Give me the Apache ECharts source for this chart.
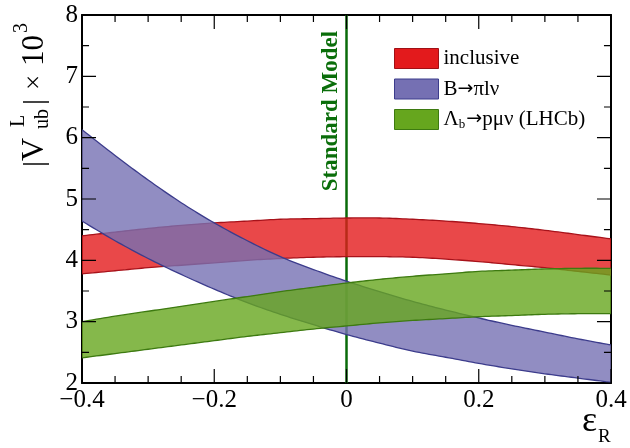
<!DOCTYPE html>
<html><head><meta charset="utf-8">
<script src="https://cdn.jsdelivr.net/npm/echarts@6/dist/echarts.min.js"></script>
<style>html,body{margin:0;padding:0;background:#fff}#c{width:630px;height:448px}</style>
</head><body><div id="c"></div>
<script>
// ---- data ----
const epsR = [-0.4,-0.35,-0.3,-0.25,-0.2,-0.15,-0.1,-0.05,0,0.05,0.1,0.15,0.2,0.25,0.3,0.35,0.4];
const inclusiveHigh = [4.40,4.46,4.52,4.57,4.61,4.64,4.67,4.68,4.69,4.69,4.67,4.64,4.60,4.55,4.49,4.42,4.35];
const inclusiveLow  = [3.78,3.83,3.88,3.92,3.96,4.00,4.03,4.05,4.06,4.06,4.05,4.02,3.98,3.93,3.88,3.82,3.76];
const bpiHigh = [6.13,5.71,5.31,4.94,4.61,4.32,4.06,3.85,3.66,3.49,3.33,3.19,3.06,2.94,2.83,2.72,2.62];
const bpiLow  = [4.64,4.32,4.03,3.77,3.53,3.31,3.12,2.95,2.79,2.65,2.52,2.42,2.32,2.23,2.15,2.08,2.01];
const lambdaHigh = [3.00,3.09,3.17,3.25,3.33,3.41,3.49,3.56,3.63,3.69,3.74,3.78,3.82,3.84,3.86,3.87,3.87];
const lambdaLow  = [2.41,2.48,2.55,2.62,2.69,2.76,2.82,2.88,2.93,2.98,3.02,3.05,3.08,3.10,3.12,3.13,3.13];
const smValue = 0;
const xTicks = {min:-0.4, max:0.4, interval:0.2};
const yTicks = {min:2, max:8, interval:1};
const xMinorStep = 0.05, yMinorStep = 0.5;
const names = ['inclusive','B→πlν','Λb→pμν (LHCb)'];

const FONT = 'Liberation Serif';

// smooth Catmull-Rom curve through screen points (drawing only)
function smoothPts(pts) {
  const out = [pts[0]];
  for (let i = 0; i < pts.length - 1; i++) {
    const p0 = pts[Math.max(i-1,0)], p1 = pts[i], p2 = pts[i+1], p3 = pts[Math.min(i+2, pts.length-1)];
    const c1 = [p1[0] + (p2[0]-p0[0])/6, p1[1] + (p2[1]-p0[1])/6];
    const c2 = [p2[0] - (p3[0]-p1[0])/6, p2[1] - (p3[1]-p1[1])/6];
    for (let k = 1; k <= 10; k++) {
      const t = k/10, u = 1-t;
      out.push([
        u*u*u*p1[0] + 3*u*u*t*c1[0] + 3*u*t*t*c2[0] + t*t*t*p2[0],
        u*u*u*p1[1] + 3*u*u*t*c1[1] + 3*u*t*t*c2[1] + t*t*t*p2[1]
      ]);
    }
  }
  return out;
}

function range(a, b, s) { const r = []; for (let v = a; v <= b + 1e-9; v += s) r.push(Math.round(v*1000)/1000); return r; }
const xMinor = range(xTicks.min, xTicks.max, xMinorStep);
const yMinor = range(yTicks.min, yTicks.max, yMinorStep);
function isMajor(v, rng) { const q = (v - rng.min)/rng.interval; return Math.abs(q - Math.round(q)) < 1e-6; }

function band(name, lo, hi, fill, solid, edge) {
  return {
    type:'custom', name: name, coordinateSystem:'cartesian2d',
    itemStyle:{color: solid},
    data: epsR.map((x,i)=>[x, lo[i], hi[i]]),
    encode:{x:0, y:[1,2]},
    renderItem: function(params, api){
      if (params.dataIndex !== 0) return;
      const up = smoothPts(epsR.map((x,i)=>api.coord([x, hi[i]])));
      const dn = smoothPts(epsR.map((x,i)=>api.coord([x, lo[i]])));
      const cs = params.coordSys;
      return {
        type:'group',
        clipPath:{type:'rect', shape:{x:cs.x, y:cs.y, width:cs.width, height:cs.height}},
        children:[
          {type:'polygon', shape:{points:up.concat(dn.slice().reverse())}, style:{fill:fill, stroke:null}},
          {type:'polyline', shape:{points:up}, style:{fill:null, stroke:edge, lineWidth:1.3}},
          {type:'polyline', shape:{points:dn}, style:{fill:null, stroke:edge, lineWidth:1.3}}
        ]
      };
    }
  };
}

const minus = v => String(v).replace('-', '\u2212');

function mkAxis(kind, pos, showLabel, rng) {
  return {
    type:'value', position:pos, min:rng.min, max:rng.max, interval:rng.interval,
    axisLine:{show:true, onZero:false, lineStyle:{color:'#000', width:2}},
    axisTick:{show:false}, minorTick:{show:false},
    splitLine:{show:false}, minorSplitLine:{show:false},
    axisLabel: showLabel ? {show:true, fontFamily:FONT, fontSize:25, color:'#000',
                            margin: kind==='x' ? 5 : 4, formatter: minus} : {show:false}
  };
}

// tick marks as short line segments (lengths given as fractions of the axis span)
const xSpan = xTicks.max - xTicks.min, ySpan = yTicks.max - yTicks.min;
const tickData = [];
xMinor.forEach(v => {
  const f = isMajor(v, xTicks) ? 0.038 : 0.019;
  tickData.push([v, yTicks.min], [v, yTicks.min + f*ySpan], '-');
  tickData.push([v, yTicks.max], [v, yTicks.max - f*ySpan], '-');
});
yMinor.forEach(v => {
  const f = isMajor(v, yTicks) ? 0.0265 : 0.0133;
  tickData.push([xTicks.min, v], [xTicks.min + f*xSpan, v], '-');
  tickData.push([xTicks.max, v], [xTicks.max - f*xSpan, v], '-');
});

const chart = echarts.init(document.getElementById('c'), null, {renderer:'canvas'});
chart.setOption({
  animation:false,
  backgroundColor:'#fff',
  grid:{left:82, right:19, top:15, bottom:65},
  xAxis:[ mkAxis('x','bottom',true,xTicks), mkAxis('x','top',false,xTicks) ],
  yAxis:[ mkAxis('y','left',true,yTicks), mkAxis('y','right',false,yTicks) ],
  legend:{
    orient:'vertical', left:389, top:43, itemWidth:44, itemHeight:20, itemGap:9.5,
    icon:'rect',
    data:[
      {name:names[0], itemStyle:{color:'#e31a1c', borderColor:'#a01015', borderWidth:1}},
      {name:names[1], itemStyle:{color:'#7570b3', borderColor:'#3c3c8c', borderWidth:1}},
      {name:names[2], itemStyle:{color:'#66a61e', borderColor:'#3d7a10', borderWidth:1}}
    ],
    textStyle:{fontFamily:FONT, fontSize:21, color:'#000',
      rich:{m:{fontFamily:FONT, fontSize:21, color:'#000'},
            a:{fontFamily:'DejaVu Sans', fontSize:19, color:'#000'},
            s:{fontFamily:FONT, fontSize:13, color:'#000', padding:[11,1,0,0]}}},
    formatter: function(n){
      if (n.indexOf('Λb')===0) return '{m|Λ}{s|b}{a|→}{m|pμν (LHCb)}';
      if (n.indexOf('→')>0) { const p = n.split('→'); return '{m|' + p[0] + '}{a|→}{m|' + p[1] + '}'; }
      return '{m|' + n + '}';
    }
  },
  series:[
    {type:'line', name:'SM', data:[[smValue, yTicks.min],[smValue, yTicks.max]], symbol:'none', silent:true,
     lineStyle:{color:'#0a6b0a', width:2.5}, z:1},
    band(names[0], inclusiveLow, inclusiveHigh, 'rgba(227,26,28,0.8)', '#e31a1c', '#a8121a'),
    band(names[1], bpiLow, bpiHigh, 'rgba(117,112,179,0.8)', '#7570b3', '#3c3c8c'),
    band(names[2], lambdaLow, lambdaHigh, 'rgba(102,166,30,0.8)', '#66a61e', '#3d7a10'),
    {type:'line', name:'ticks', data:tickData, symbol:'none', silent:true, connectNulls:false,
     clip:false, lineStyle:{color:'#000', width:1.2}, z:20}
  ],
  graphic:[
    {type:'text', x:331.5, y:111, rotation:Math.PI/2, z:10,
     style:{text:'Standard Model', fontFamily:FONT, fontWeight:'bold', fontSize:23, fill:'#0a6e0a',
            align:'center', verticalAlign:'middle'}},
    {type:'group', x:35, y:167, rotation:Math.PI/2, children:[
      {type:'text', x:0, y:0, style:{text:'|', fontFamily:FONT, fontSize:30, fill:'#000', verticalAlign:'middle'}},
      {type:'text', x:6, y:0, style:{text:'V', fontFamily:FONT, fontSize:32, fill:'#000', verticalAlign:'middle'}},
      {type:'text', x:40, y:-16, style:{text:'L', fontFamily:FONT, fontSize:20, fill:'#000', verticalAlign:'middle'}},
      {type:'text', x:38, y:8, style:{text:'ub', fontFamily:FONT, fontSize:20, fill:'#000', verticalAlign:'middle'}},
      {type:'text', x:62, y:0, style:{text:'|', fontFamily:FONT, fontSize:30, fill:'#000', verticalAlign:'middle'}},
      {type:'text', x:77, y:0, style:{text:'×', fontFamily:FONT, fontSize:27, fill:'#000', verticalAlign:'middle'}},
      {type:'text', x:101, y:0, style:{text:'10', fontFamily:FONT, fontSize:31, fill:'#000', verticalAlign:'middle'}},
      {type:'text', x:134, y:-13, style:{text:'3', fontFamily:FONT, fontSize:20, fill:'#000', verticalAlign:'middle'}}
    ]},
    {type:'text', x:582, y:422, style:{text:'ε', fontFamily:FONT, fontSize:36, fill:'#000', verticalAlign:'middle'}},
    {type:'text', x:598, y:437, style:{text:'R', fontFamily:FONT, fontSize:19, fill:'#000', verticalAlign:'middle'}}
  ]
});
</script></body></html>
